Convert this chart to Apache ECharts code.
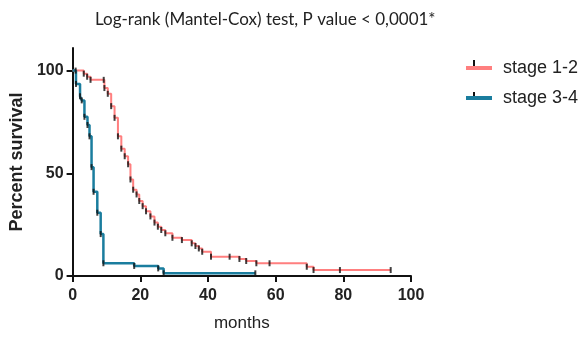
<!DOCTYPE html>
<html><head><meta charset="utf-8">
<script src="https://cdn.jsdelivr.net/npm/echarts@6/dist/echarts.min.js"></script>
<style>html,body{margin:0;padding:0;background:#fff}#c{width:581px;height:338px}</style>
</head><body><div id="c"></div>
<script>
// Stage 1-2 (Kaplan-Meier steps: month of event, survival after event)
var stage12Months = [0, 3.3, 4.3, 5.3, 9.4, 10.4, 11.4, 12.4, 13.4, 14.4, 15.4, 16.4, 17.1, 17.9, 18.9, 19.7, 20.7, 21.7, 23.0, 24.2, 25.2, 26.2, 27.4, 29.5, 32.3, 35.2, 36.3, 37.3, 38.3, 40.9, 49.3, 51.3, 54.3, 69.2, 71.2, 94];
var stage12Values = [100, 98.5, 97, 95.5, 91.5, 88.7, 82.7, 77, 68, 62, 58.3, 54.4, 47, 42, 39.7, 36.5, 34, 31.5, 29, 26, 24, 22.4, 20.8, 18.6, 17.5, 15.9, 14.6, 13.4, 11.8, 9.4, 8.3, 7.3, 6.2, 4.5, 2.9, 2.9];
var stage12CensorMonths = [0.9, 9.2, 46.4, 58.2, 79, 94];
var stage12CensorValues = [100, 95.5, 9.4, 6.2, 2.9, 2.9];

// Stage 3-4
var stage34Months = [0, 1.0, 2.2, 2.7, 3.5, 4.4, 5.0, 5.6, 6.2, 7.3, 8.3, 9.1, 18.2, 25.3, 26.9, 54];
var stage34Values = [100, 93.5, 87.5, 85.5, 77.5, 73.5, 68, 53, 41, 30.8, 20.4, 6.2, 4.9, 3.7, 1.3, 1.3];
var stage34CensorMonths = [54];
var stage34CensorValues = [1.3];

var xTicks = [0, 20, 40, 60, 80, 100];
var yTicks = [0, 50, 100];
var seriesNames = ['stage 1-2', 'stage 3-4'];
var titleText = 'Log-rank (Mantel-Cox) test, P value < 0,0001*';

function pairs(xs, ys, skipFirst, skipLast) {
  var out = [];
  for (var i = 0; i < xs.length; i++) {
    if (skipFirst && i === 0) continue;
    if (skipLast && i === xs.length - 1) continue;
    out.push([xs[i], ys[i]]);
  }
  return out;
}
var RED = '#ff7f7f', TEAL = '#1a7d9e';
var tickStyle = {color: '#111'};
var chart = echarts.init(document.getElementById('c'));
chart.setOption({
  animation: false,
  title: {text: titleText, left: 90, top: 6,
    textStyle: {fontFamily: 'Lato', fontSize: 17, fontWeight: 'normal', color: '#222'}},
  legend: {orient: 'vertical', left: 461, top: 54, itemWidth: 26, itemHeight: 4, itemGap: 12,
    icon: 'rect', data: seriesNames,
    textStyle: {fontFamily: 'Liberation Sans', fontSize: 18, color: '#222', padding: [0, 0, 0, 6]}},
  graphic: [
    {type: 'rect', left: 473, top: 60, shape: {width: 2, height: 6}, style: {fill: '#111'}},
    {type: 'rect', left: 473, top: 92, shape: {width: 2, height: 6}, style: {fill: '#111'}}
  ],
  grid: {left: 72, right: 170, top: 48, bottom: 62, containLabel: false},
  xAxis: {type: 'value', min: 0, max: 100, interval: 20,
    name: 'months', nameLocation: 'middle', nameGap: 39,
    nameTextStyle: {fontFamily: 'Liberation Sans', fontSize: 17, color: '#222'},
    axisLine: {lineStyle: {color: '#111', width: 2}},
    axisTick: {length: 6, lineStyle: {color: '#111', width: 2}, customValues: xTicks},
    axisLabel: {margin: 12, fontFamily: 'Liberation Sans', fontSize: 16, fontWeight: 'bold', color: '#222', customValues: xTicks},
    splitLine: {show: false}},
  yAxis: {type: 'value', min: 0, max: 111,
    name: 'Percent survival', nameLocation: 'middle', nameGap: 46,
    nameTextStyle: {fontFamily: 'Liberation Sans', fontSize: 18, fontWeight: 'bold', color: '#222'},
    axisLine: {show: true, lineStyle: {color: '#111', width: 2}},
    axisTick: {show: true, length: 6, lineStyle: {color: '#111', width: 2}, customValues: yTicks},
    axisLabel: {margin: 9, fontFamily: 'Liberation Sans', fontSize: 16, fontWeight: 'bold', color: '#222', customValues: yTicks},
    splitLine: {show: false}},
  series: [
    {name: seriesNames[0], type: 'line', step: 'end', showSymbol: false, color: RED,
      lineStyle: {width: 2, color: RED}, data: pairs(stage12Months, stage12Values), z: 2},
    {name: seriesNames[1], type: 'line', step: 'end', showSymbol: false, color: TEAL,
      lineStyle: {width: 2.5, color: TEAL}, data: pairs(stage34Months, stage34Values), z: 3},
    {type: 'scatter', symbol: 'rect', symbolSize: [2, 6], itemStyle: tickStyle, z: 5,
      data: pairs(stage12Months, stage12Values, true, true).concat(pairs(stage12CensorMonths, stage12CensorValues))},
    {type: 'scatter', symbol: 'rect', symbolSize: [2, 6], itemStyle: tickStyle, z: 5,
      data: pairs(stage34Months, stage34Values, true, true).concat(pairs(stage34CensorMonths, stage34CensorValues))}
  ]
});
</script></body></html>
